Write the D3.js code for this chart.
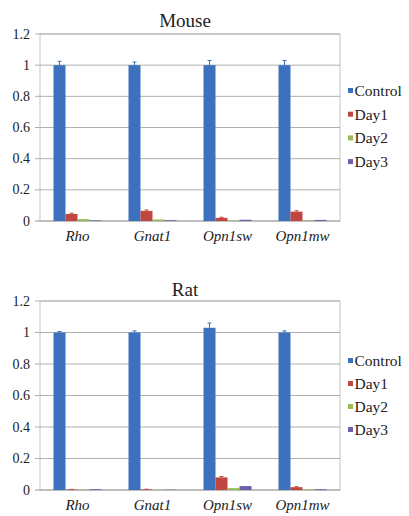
<!DOCTYPE html>
<html>
<head>
<meta charset="utf-8">
<script src="https://cdn.jsdelivr.net/npm/d3@7"></script>
<style>
  html, body { margin: 0; padding: 0; background: #fff; }
  svg { display: block; }
</style>
</head>
<body>
<svg id="chart" width="409" height="516"></svg>
<script>
// Relative expression of photoreceptor genes after treatment
const categories = ["Rho", "Gnat1", "Opn1sw", "Opn1mw"];
const seriesNames = ["Control", "Day1", "Day2", "Day3"];
const seriesColors = ["#3D70BD", "#C0473F", "#9BBB59", "#6F5FA6"];
const yTicks = [0, 0.2, 0.4, 0.6, 0.8, 1, 1.2];

// Mouse
const mouseControl = [1, 1, 1, 1];
const mouseDay1 = [0.045, 0.065, 0.02, 0.06];
const mouseDay2 = [0.012, 0.01, 0.003, 0.004];
const mouseDay3 = [0.004, 0.005, 0.008, 0.007];
const mouseControlErr = [0.025, 0.02, 0.03, 0.03];
const mouseDay1Err = [0.005, 0.006, 0.004, 0.006];

// Rat
const ratControl = [1, 1, 1.03, 1];
const ratDay1 = [0.003, 0.004, 0.08, 0.018];
const ratDay2 = [0.002, 0.001, 0.012, 0.004];
const ratDay3 = [0.005, 0.002, 0.025, 0.005];
const ratControlErr = [0.006, 0.01, 0.03, 0.01];
const ratDay1Err = [0.001, 0.001, 0.006, 0.003];

const svg = d3.select("#chart");
const fontFamily = "Liberation Serif";

function label(g, x, y, str, opts) {
  return g.append("text")
    .attr("x", x).attr("y", y)
    .attr("text-anchor", opts.anchor || "start")
    .attr("font-family", fontFamily)
    .attr("font-size", opts.size)
    .attr("font-style", opts.italic ? "italic" : "normal")
    .attr("fill", "#222")
    .text(str);
}

function drawPanel(cfg) {
  const g = svg.append("g");
  const left = 40, right = 340;
  const y = d3.scaleLinear().domain([0, 1.2]).range([cfg.bottom, cfg.top]);
  const x0 = d3.scaleBand().domain(categories).range([left, right])
    .paddingInner(0.36).paddingOuter(0.18);
  const x1 = d3.scaleBand().domain(seriesNames).range([0, x0.bandwidth()]);

  // plot frame
  g.append("rect")
    .attr("x", left).attr("y", cfg.top)
    .attr("width", right - left).attr("height", cfg.bottom - cfg.top)
    .attr("fill", "none").attr("stroke", "#c4c4c4").attr("stroke-width", 1);

  // gridlines with short ticks on the left
  g.selectAll("line.grid").data(yTicks).join("line")
    .attr("class", "grid")
    .attr("x1", left - 5).attr("x2", right)
    .attr("y1", d => y(d)).attr("y2", d => y(d))
    .attr("stroke", d => d === 0 ? "#9a9a9a" : "#b0b0b0")
    .attr("stroke-width", 1);

  // y tick labels
  yTicks.forEach(t => {
    label(g, 30, y(t) + 4.5, d3.format("~g")(t), { anchor: "end", size: 14 });
  });

  // bars
  cfg.values.forEach((vals, si) => {
    g.selectAll(null).data(categories).join("rect")
      .attr("x", c => x0(c) + x1(seriesNames[si]))
      .attr("y", (c, i) => y(vals[i]))
      .attr("width", x1.bandwidth())
      .attr("height", (c, i) => y(0) - y(vals[i]))
      .attr("fill", seriesColors[si]);
  });

  // error bars
  cfg.errors.forEach((errs, si) => {
    const vals = cfg.values[si];
    categories.forEach((c, i) => {
      const cx = x0(c) + x1(seriesNames[si]) + x1.bandwidth() / 2;
      const top = y(vals[i] + errs[i]);
      g.append("line")
        .attr("x1", cx).attr("x2", cx)
        .attr("y1", y(vals[i])).attr("y2", top)
        .attr("stroke", seriesColors[si]).attr("stroke-width", 1);
      g.append("line")
        .attr("x1", cx - 2).attr("x2", cx + 2)
        .attr("y1", top).attr("y2", top)
        .attr("stroke", seriesColors[si]).attr("stroke-width", 1);
    });
  });

  // category labels
  categories.forEach(c => {
    label(g, x0(c) + x0.bandwidth() / 2, cfg.bottom + 20, c,
      { anchor: "middle", size: 15, italic: true });
  });

  // title
  label(g, 185, cfg.titleY, cfg.title, { anchor: "middle", size: 19 });

  // legend
  seriesNames.forEach((s, i) => {
    const ly = cfg.legendY + i * cfg.legendStep;
    g.append("rect")
      .attr("x", 348).attr("y", ly - 3).attr("width", 5).attr("height", 5)
      .attr("fill", seriesColors[i]);
    label(g, 354.5, ly + 5, s, { anchor: "start", size: 15.5 });
  });
}

drawPanel({
  title: "Mouse", titleY: 27, top: 34, bottom: 221,
  legendY: 91, legendStep: 23.7,
  values: [mouseControl, mouseDay1, mouseDay2, mouseDay3],
  errors: [mouseControlErr, mouseDay1Err]
});

drawPanel({
  title: "Rat", titleY: 296, top: 301, bottom: 490,
  legendY: 361, legendStep: 23,
  values: [ratControl, ratDay1, ratDay2, ratDay3],
  errors: [ratControlErr, ratDay1Err]
});
</script>
</body>
</html>
